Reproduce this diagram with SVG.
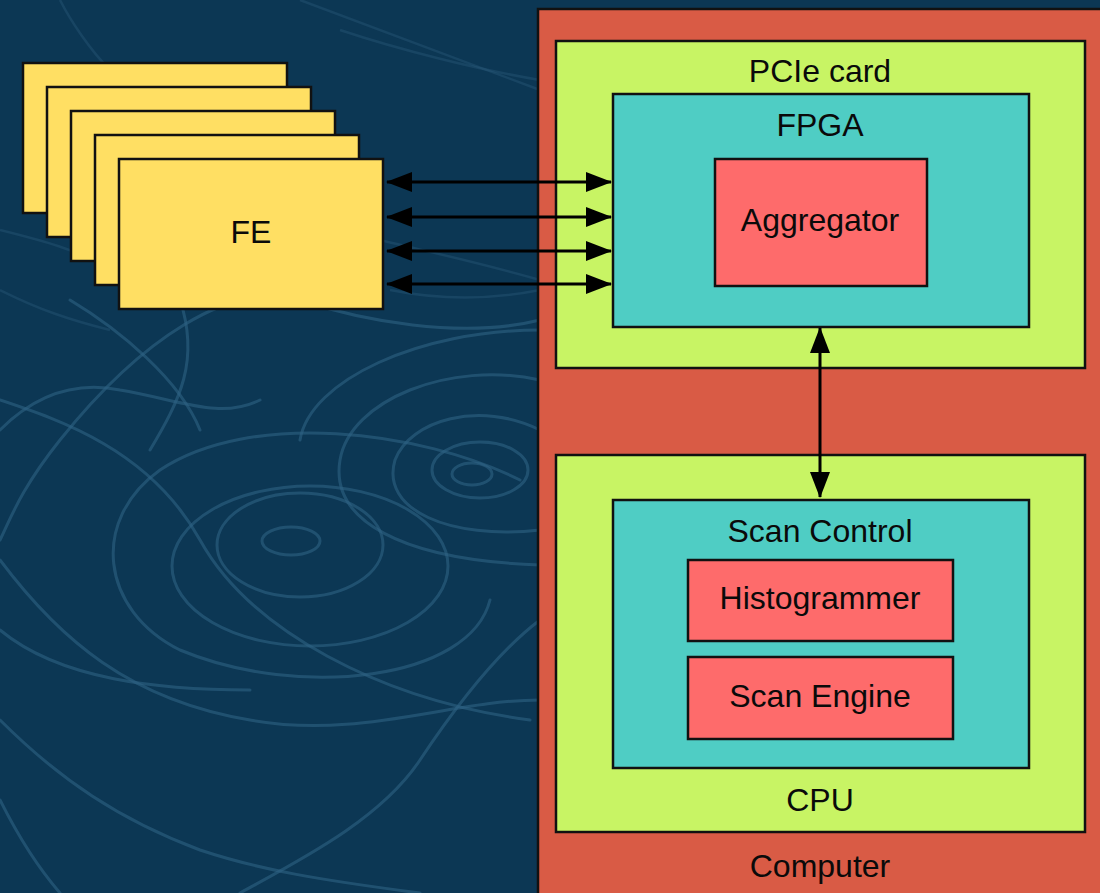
<svg xmlns="http://www.w3.org/2000/svg" width="1100" height="893" viewBox="0 0 1100 893">
  <defs>
    <style>
      .bg { fill: #0c3754; }
      .trk { fill: none; stroke: #2f6284; stroke-width: 3; stroke-linecap: round; opacity: 0.6; }
      .trk2 { fill: none; stroke: #2a5a7b; stroke-width: 2.5; opacity: 0.4; }
      .box { stroke: #111; stroke-width: 2.5; }
      .computer { fill: #d95b45; }
      .board { fill: #c8f464; }
      .chip { fill: #4fcdc4; }
      .block { fill: #fe6b6b; }
      .fe { fill: #ffdf63; }
      .lbl { font-family: "Liberation Sans", Arial, Helvetica, sans-serif; font-size: 32px; fill: #0a0a0a; text-anchor: middle; }
      .link { stroke: #000; stroke-width: 3; fill: none; marker-start: url(#head); marker-end: url(#head); }
    </style>
    <marker id="head" viewBox="0 0 26 20" refX="25" refY="10" markerWidth="26" markerHeight="20" markerUnits="userSpaceOnUse" orient="auto-start-reverse">
      <path d="M0,0 L26,10 L0,20 Z" fill="#000"/>
    </marker>
  </defs>

  <!-- bubble-chamber style backdrop -->
  <rect class="bg" x="0" y="0" width="1100" height="893"/>
  <g id="tracks">
    <ellipse class="trk" cx="291" cy="541" rx="29" ry="14"/>
    <ellipse class="trk" cx="300" cy="545" rx="83" ry="52"/>
    <ellipse class="trk" cx="310" cy="566" rx="138" ry="80"/>
    <path class="trk" d="M490,600 C470,680 300,700 180,650 C100,610 90,520 160,470 C250,410 420,430 520,480"/>
    <ellipse class="trk" cx="472" cy="474" rx="20" ry="11"/>
    <ellipse class="trk" cx="480" cy="470" rx="48" ry="28"/>
    <path class="trk" d="M540,430 C480,400 410,420 395,460 C380,510 450,540 540,530"/>
    <path class="trk" d="M540,380 C450,360 350,400 340,460 C330,520 400,560 540,565"/>
    <path class="trk" d="M540,330 C420,330 310,380 300,440"/>
    <path class="trk" d="M540,320 C460,340 360,320 300,300 C230,280 140,340 60,440 C20,490 10,520 0,540"/>
    <path class="trk" d="M0,400 C60,420 150,450 200,540 C250,630 380,700 530,720"/>
    <path class="trk" d="M0,560 C60,640 130,700 250,720 C360,740 450,700 540,700"/>
    <path class="trk" d="M0,630 C60,680 160,690 250,690"/>
    <path class="trk" d="M540,620 C500,650 460,700 420,760 C380,820 300,860 240,893"/>
    <path class="trk" d="M0,720 C60,780 120,820 200,850 C260,870 320,880 420,893"/>
    <path class="trk" d="M0,800 C20,840 40,870 60,893"/>
    <path class="trk" d="M0,430 C30,400 70,380 120,390 C180,400 220,420 260,400"/>
    <path class="trk" d="M70,300 C120,330 180,380 200,430"/>
    <path class="trk" d="M180,300 C200,360 180,400 150,450"/>
    <path class="trk2" d="M60,0 C70,20 90,50 110,70"/>
    <path class="trk2" d="M300,0 C380,30 460,60 540,90"/>
    <path class="trk2" d="M340,30 C400,50 480,70 540,80"/>
    <path class="trk2" d="M0,230 C40,240 80,250 110,270"/>
    <path class="trk2" d="M0,290 C40,310 70,320 110,330"/>
    <path class="trk2" d="M380,240 C420,250 470,260 540,280"/>
    <path class="trk2" d="M390,290 C440,300 490,300 540,290"/>
  </g>

  <!-- front-end boards, stacked -->
  <g id="fe-stack">
    <rect class="box fe" x="23" y="63" width="264" height="150"/>
    <rect class="box fe" x="47" y="87" width="264" height="150"/>
    <rect class="box fe" x="71" y="111" width="264" height="150"/>
    <rect class="box fe" x="95" y="135" width="264" height="150"/>
  </g>
  <g id="fe">
    <rect class="box fe" x="119" y="159" width="264" height="150"/>
    <text class="lbl" x="251" y="243">FE</text>
  </g>

  <g id="computer">
    <rect class="box computer" x="538" y="9" width="570" height="900"/>
    <text class="lbl" x="820" y="877">Computer</text>
  </g>

  <g id="pcie-card">
    <rect class="box board" x="556" y="41" width="529" height="327"/>
    <text class="lbl" x="820" y="82">PCIe card</text>
  </g>
  <g id="fpga">
    <rect class="box chip" x="613" y="94" width="416" height="233"/>
    <text class="lbl" x="820" y="136">FPGA</text>
  </g>
  <g id="aggregator">
    <rect class="box block" x="715" y="159" width="212" height="127"/>
    <text class="lbl" x="820" y="231">Aggregator</text>
  </g>

  <g id="cpu">
    <rect class="box board" x="556" y="455" width="529" height="377"/>
    <text class="lbl" x="820" y="811">CPU</text>
  </g>
  <g id="scan-control">
    <rect class="box chip" x="613" y="500" width="416" height="268"/>
    <text class="lbl" x="820" y="542">Scan Control</text>
  </g>
  <g id="histogrammer">
    <rect class="box block" x="688" y="560" width="265" height="81"/>
    <text class="lbl" x="820" y="609">Histogrammer</text>
  </g>
  <g id="scan-engine">
    <rect class="box block" x="688" y="657" width="265" height="82"/>
    <text class="lbl" x="820" y="707">Scan Engine</text>
  </g>

  <g id="connectors">
    <line class="link" x1="387" y1="182" x2="611" y2="182"/>
    <line class="link" x1="387" y1="217" x2="611" y2="217"/>
    <line class="link" x1="387" y1="251" x2="611" y2="251"/>
    <line class="link" x1="387" y1="284" x2="611" y2="284"/>
    <line class="link" x1="820" y1="328" x2="820" y2="497"/>
  </g>
</svg>
